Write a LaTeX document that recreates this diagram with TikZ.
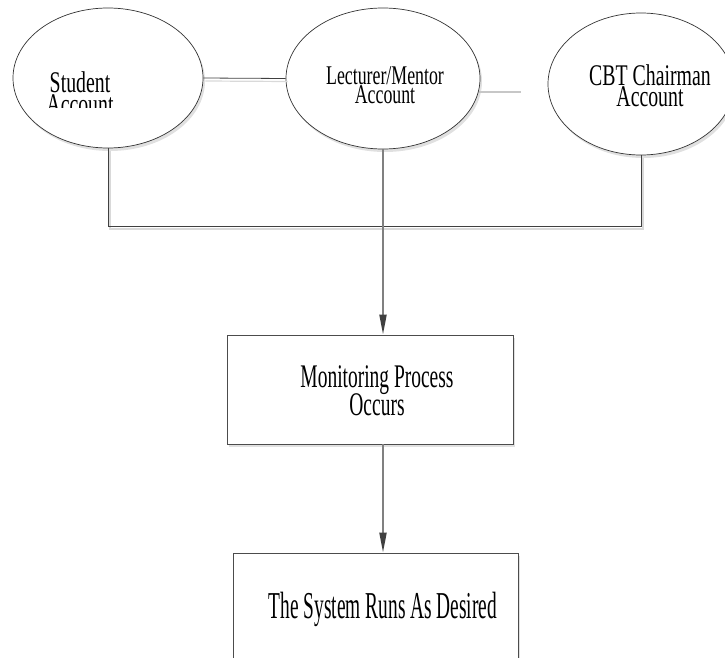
\documentclass[tikz,border=0pt]{standalone}
\usepackage{fontspec}
\newfontfamily\fEll[FakeStretch=0.66]{Liberation Serif}
\newfontfamily\fMon[FakeStretch=0.59]{Liberation Serif}
\newfontfamily\fSys[FakeStretch=0.51]{Liberation Serif}
\usetikzlibrary{shapes.geometric,arrows.meta,shadows}
\begin{document}
\begin{tikzpicture}[x=1pt,y=-1pt,
  ell/.style={ellipse,draw=black!80,line width=0.7pt,fill=white,inner sep=0pt,
     drop shadow={shadow xshift=2pt,shadow yshift=-3pt,opacity=0.35,fill=gray!70}},
  box/.style={rectangle,draw=black!70,line width=0.8pt,fill=white,inner sep=0pt,
     drop shadow={shadow xshift=2pt,shadow yshift=-3pt,opacity=0.35,fill=gray!70}},
  lbl/.style={align=center,inner sep=0pt,anchor=base,execute at begin node={\lineskiplimit=-100pt}},
  conn/.style={draw=black!75,line width=0.8pt},
  connshadow/.style={draw=black!15,line width=1.2pt,transform canvas={xshift=2pt,yshift=-3pt}},
  faint/.style={draw=black!22,line width=1.2pt},
  flow/.style={draw=black!50,line width=2pt,-{Triangle[length=20pt,width=7pt,color=black!75]}}
]
\useasboundingbox (0,0) rectangle (725,658);

\node[ell,minimum width=190pt,minimum height=140pt] (stu) at (108,78) {};
\node[ell,minimum width=194pt,minimum height=141pt] (lec) at (383,78.5) {};
\node[ell,minimum width=186pt,minimum height=142pt] (cbt) at (641,84) {};
\node[box,minimum width=286pt,minimum height=109pt] (mon) at (370,389.5) {};
\node[box,minimum width=285pt,minimum height=140pt] (sys) at (375.5,623) {};

\begin{scope}
\clip (0,0) rectangle (300,108);
\node[lbl,font=\fEll\fontsize{30}{22}\selectfont] (stut) at (80,115) {Student\\Account};
\end{scope}
\node[lbl,font=\fEll\fontsize{27}{19}\selectfont] (lect) at (385,104) {Lecturer/Mentor\\Account};
\node[lbl,font=\fEll\fontsize{30}{21}\selectfont] (cbtt) at (650,107) {CBT Chairman\\Account};
\node[lbl,font=\fMon\fontsize{33}{28}\selectfont] (mont) at (377,415) {Monitoring Process\\Occurs};
\node[lbl,font=\fSys\fontsize{38}{38}\selectfont] (syst) at (383,618) {The System Runs As Desired};

\coordinate (jn) at (382,226);
\coordinate (rt) at (521,92);

\draw[connshadow] (stu.east) -- (lec.west);
\draw[conn] (stu.east) -- (lec.west);
\draw[faint] (lec.-8) -- (rt |- lec.-8);

\draw[connshadow] (stu.south) |- (cbt.south |- jn) -- (cbt.south);
\draw[conn] (stu.south) |- (cbt.south |- jn) -- (cbt.south);

\draw[flow] (lec.south) -- (lec.south |- mon.north);
\draw[flow] (lec.south |- mon.south) -- (lec.south |- sys.north);
\end{tikzpicture}
\end{document}
